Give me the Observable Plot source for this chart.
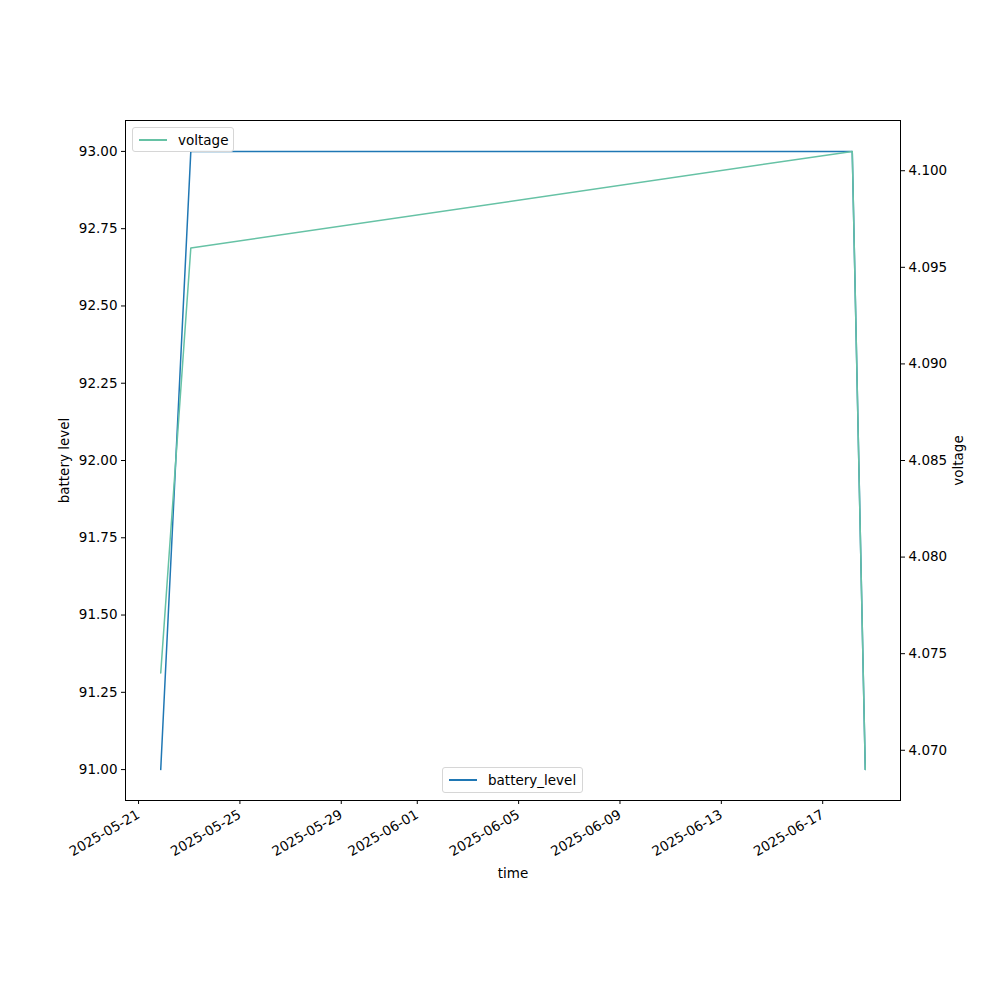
<!DOCTYPE html>
<html><head><meta charset="utf-8">
<script src="https://cdn.jsdelivr.net/npm/d3@7"></script>
<script src="https://cdn.jsdelivr.net/npm/@observablehq/plot@0.6"></script>
<style>
body{margin:0;background:#fff;font-family:"DejaVu Sans",sans-serif;}
#wrap{position:relative;width:1000px;height:1000px;}
.leg{position:absolute;background:rgba(255,255,255,0.8);border:1px solid #d6d6d6;border-radius:3px;font-size:13.5px;display:flex;align-items:center;box-sizing:border-box;}
.leg span.sw{display:inline-block;width:28px;height:2px;margin:0 11px 0 6px;}
</style></head>
<body><div id="wrap"></div>
<script>
const times = ["2025-05-21T21:00","2025-05-23T01:30","2025-06-18T04:00","2025-06-18T16:20"];
const batteryLevel = [91, 93, 93, 91];
const voltage = [4.074, 4.096, 4.101, 4.069];
const xTicks = ["2025-05-21","2025-05-25","2025-05-29","2025-06-01","2025-06-05","2025-06-09","2025-06-13","2025-06-17"];
const vTicks = [4.070, 4.075, 4.080, 4.085, 4.090, 4.095, 4.100];
const bTicks = [91.00, 91.25, 91.50, 91.75, 92.00, 92.25, 92.50, 92.75, 93.00];

const dates = times.map(t => new Date(t + "Z"));
const pad = (lo, hi) => [lo - (hi - lo) * 0.05, hi + (hi - lo) * 0.05];
const xDom = (() => { const a = +dates[0], b = +dates[dates.length - 1]; const [l, h] = pad(a, b); return [new Date(l), new Date(h)]; })();
const bDom = pad(d3.min(batteryLevel), d3.max(batteryLevel));
const vDom = pad(d3.min(voltage), d3.max(voltage));
const v2b = v => bDom[0] + (v - vDom[0]) / (vDom[1] - vDom[0]) * (bDom[1] - bDom[0]);
const b2v = b => vDom[0] + (b - bDom[0]) / (bDom[1] - bDom[0]) * (vDom[1] - vDom[0]);

const battData = dates.map((d, i) => ({t: d, y: batteryLevel[i]}));
const voltData = dates.map((d, i) => ({t: d, y: v2b(voltage[i])}));
const COL_B = "#1f77b4", COL_V = "#66c2a5";

const chart = Plot.plot({
  width: 1000, height: 1000,
  marginLeft: 125, marginRight: 100, marginTop: 120, marginBottom: 200,
  style: {fontFamily: "DejaVu Sans, sans-serif", fontSize: "13.5px", color: "#000", background: "#fff"},
  x: {type: "utc", domain: xDom},
  y: {domain: bDom},
  marks: [
    Plot.axisX({ticks: xTicks.map(s => new Date(s + "T00:00Z")), tickFormat: d3.utcFormat("%Y-%m-%d"), tickRotate: -30, tickSize: 4, tickPadding: 9, label: "time", labelAnchor: "center", labelArrow: "none", labelOffset: 77}),
    Plot.axisY({ticks: bTicks, tickFormat: d => d.toFixed(2), tickSize: 4, tickPadding: 4, label: "battery level", labelAnchor: "center", labelArrow: "none", labelOffset: 66}),
    Plot.axisY({anchor: "right", ticks: vTicks.map(v2b), tickFormat: d => b2v(d).toFixed(3), tickSize: 4, tickPadding: 4, label: "voltage", labelAnchor: "center", labelArrow: "none", labelOffset: 62}),
    Plot.line(battData, {x: "t", y: "y", stroke: COL_B, strokeWidth: 1.5}),
    Plot.line(voltData, {x: "t", y: "y", stroke: COL_V, strokeWidth: 1.5}),
    Plot.frame({stroke: "#000", strokeWidth: 1})
  ]
});
const wrap = document.getElementById("wrap");
wrap.appendChild(chart);

function legend(label, color, left, top, w, h) {
  const d = document.createElement("div");
  d.className = "leg";
  d.style.left = left + "px"; d.style.top = top + "px"; d.style.width = w + "px"; d.style.height = h + "px";
  const sw = document.createElement("span"); sw.className = "sw"; sw.style.background = color;
  d.appendChild(sw);
  d.appendChild(document.createTextNode(label));
  wrap.appendChild(d);
}
legend("voltage", COL_V, 132, 127, 102, 25);
legend("battery_level", COL_B, 442, 767, 141, 26);
</script></body></html>
